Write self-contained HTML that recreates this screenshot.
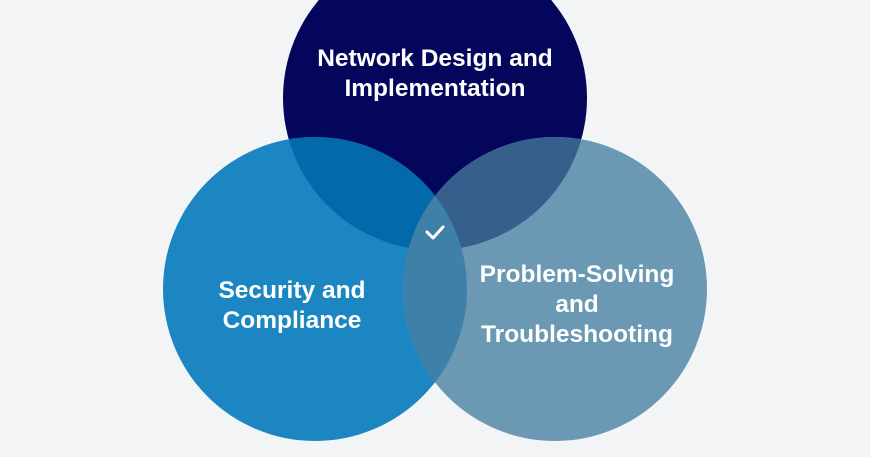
<!DOCTYPE html>
<html><head><style>
html,body{margin:0;padding:0;background:#f3f4f6;}
svg{display:block;}
text{font-family:"Liberation Sans",sans-serif;font-weight:bold;fill:#fff;font-size:24.5px;text-anchor:middle;}
</style></head><body>
<svg width="870" height="457" viewBox="0 0 870 457">
<defs>
<clipPath id="cT"><circle cx="435" cy="98" r="152"/></clipPath>
<clipPath id="cL"><circle cx="315" cy="289" r="152"/></clipPath>
<clipPath id="cR"><circle cx="555" cy="289" r="152"/></clipPath>
</defs>
<rect width="870" height="457" fill="#f3f4f6"/>
<circle cx="435" cy="98" r="152" fill="#03065a"/>
<circle cx="315" cy="289" r="152" fill="#1b86c1"/>
<circle cx="555" cy="289" r="152" fill="#6b98b3"/>
<g clip-path="url(#cT)"><circle cx="315" cy="289" r="152" fill="#0469a9"/><circle cx="555" cy="289" r="152" fill="#365f8b"/></g>
<g clip-path="url(#cL)"><circle cx="555" cy="289" r="152" fill="#3f80a9"/></g>
<polyline points="427,232 433,238 443,227" fill="none" stroke="#fff" stroke-width="3" stroke-linecap="round" stroke-linejoin="round"/>
<text x="435" y="66">Network Design and</text>
<text x="435" y="96">Implementation</text>
<text x="292" y="298">Security and</text>
<text x="292" y="328">Compliance</text>
<text x="577" y="282">Problem-Solving</text>
<text x="577" y="312">and</text>
<text x="577" y="342">Troubleshooting</text>
</svg>
</body></html>
